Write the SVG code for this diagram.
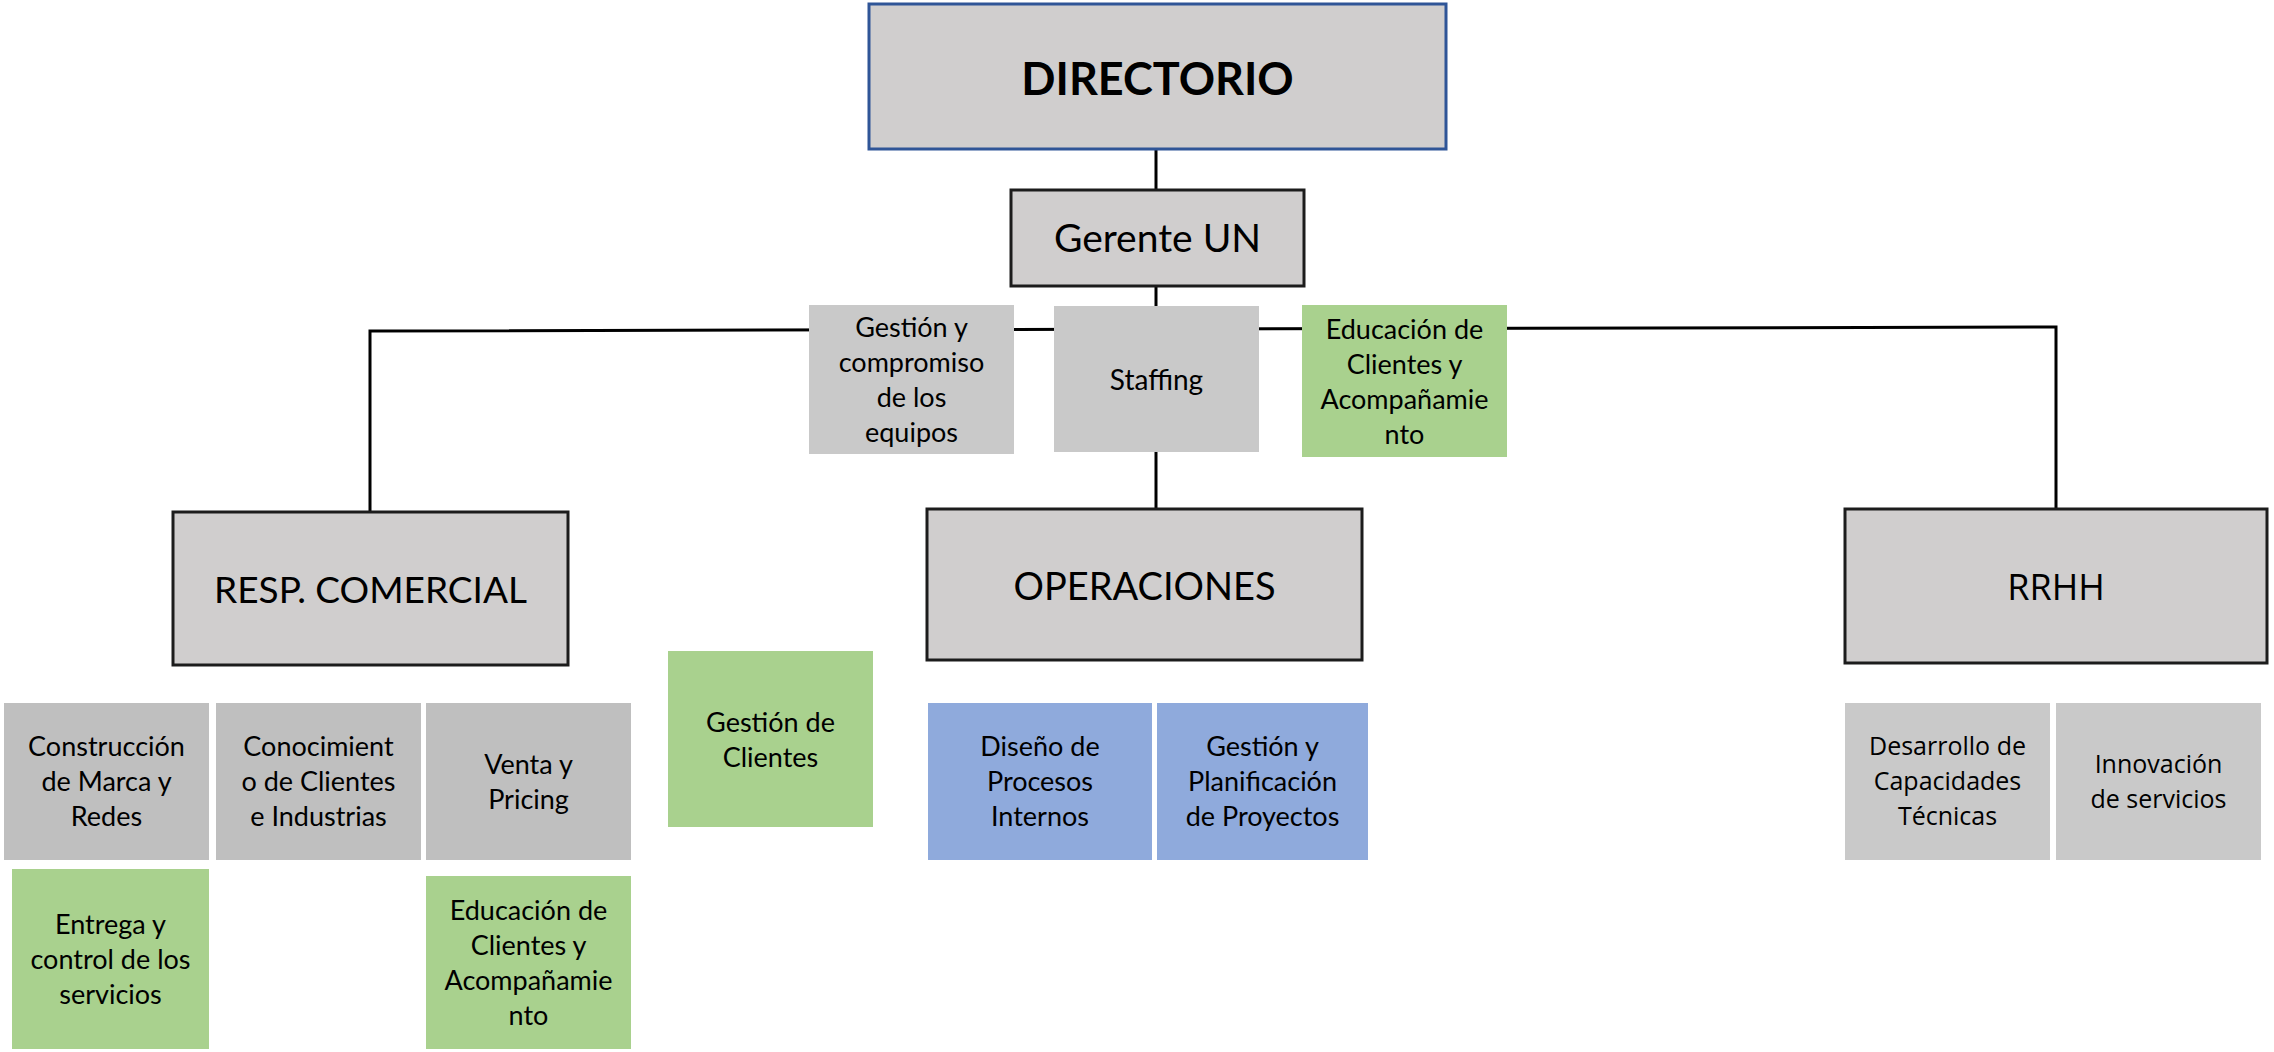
<svg xmlns="http://www.w3.org/2000/svg" width="2274" height="1052" viewBox="0 0 2274 1052">
  <style>
    .bg { fill: #ffffff; }
    .main { fill: #D0CECE; stroke: #1c1c1c; stroke-width: 3; }
    .top { fill: #D0CECE; stroke: #2F5597; stroke-width: 3; }
    .gray { fill: #C9C9C9; }
    .gray2 { fill: #BFBFBF; }
    .green { fill: #A9D18E; }
    .blue { fill: #8FAADC; }
    .wire { fill: none; stroke: #000000; stroke-width: 3; }
    text { font-family: Lato, "Liberation Sans", sans-serif; fill: #000000; text-anchor: middle; }
    .s { font-size: 27px; }
    .big { font-size: 38px; }
    .seg { font-family: "Open Sans", "Liberation Sans", sans-serif; }
    .seg.s { font-size: 25px; }
  </style>
  <rect class="bg" x="0" y="0" width="2274" height="1052"/>

  <!-- connectors -->
  <g id="connectors">
    <line class="wire" x1="1156" y1="149" x2="1156" y2="190"/>
    <line class="wire" x1="1156" y1="286" x2="1156" y2="306"/>
    <line class="wire" x1="1156" y1="452" x2="1156" y2="509"/>
    <polyline class="wire" points="370,512 370,331 2056,327 2056,509"/>
  </g>

  <g id="directorio">
    <rect class="top" x="869" y="4" width="577" height="145"/>
    <text x="1157.5" y="95" style="font-size:45px;font-weight:bold">DIRECTORIO</text>
  </g>

  <g id="gerente">
    <rect class="main" x="1011" y="190" width="293" height="96"/>
    <text x="1157.5" y="252" style="font-size:39px">Gerente UN</text>
  </g>

  <g id="gestion-compromiso">
    <rect class="gray" x="809" y="305" width="205" height="149"/>
    <text class="s" x="911.5" y="337">Gestión y</text>
    <text class="s" x="911.5" y="372">compromiso</text>
    <text class="s" x="911.5" y="407">de los</text>
    <text class="s" x="911.5" y="442">equipos</text>
  </g>

  <g id="staffing">
    <rect class="gray" x="1054" y="306" width="205" height="146"/>
    <text x="1156.5" y="390" style="font-size:28px">Staffing</text>
  </g>

  <g id="educacion-top">
    <rect class="green" x="1302" y="305" width="205" height="152"/>
    <text class="s" x="1404.5" y="338.5">Educación de</text>
    <text class="s" x="1404.5" y="373.5">Clientes y</text>
    <text class="s" x="1404.5" y="408.5">Acompañamie</text>
    <text class="s" x="1404.5" y="443.5">nto</text>
  </g>

  <g id="resp-comercial">
    <rect class="main" x="173" y="512" width="395" height="153"/>
    <text x="370.5" y="603" style="font-size:37px">RESP. COMERCIAL</text>
  </g>

  <g id="operaciones">
    <rect class="main" x="927" y="509" width="435" height="151"/>
    <text class="big" x="1144.5" y="600">OPERACIONES</text>
  </g>

  <g id="rrhh">
    <rect class="main" x="1845" y="509" width="422" height="154"/>
    <text class="seg" x="2056" y="600" style="font-size:36px">RRHH</text>
  </g>

  <g id="construccion">
    <rect class="gray2" x="4" y="703" width="205" height="157"/>
    <text class="s" x="106.5" y="756">Construcción</text>
    <text class="s" x="106.5" y="791">de Marca y</text>
    <text class="s" x="106.5" y="826">Redes</text>
  </g>

  <g id="conocimiento">
    <rect class="gray2" x="216" y="703" width="205" height="157"/>
    <text class="s" x="318.5" y="756">Conocimient</text>
    <text class="s" x="318.5" y="791">o de Clientes</text>
    <text class="s" x="318.5" y="826">e Industrias</text>
  </g>

  <g id="venta-pricing">
    <rect class="gray2" x="426" y="703" width="205" height="157"/>
    <text class="s" x="528.5" y="773.5">Venta y</text>
    <text class="s" x="528.5" y="808.5">Pricing</text>
  </g>

  <g id="entrega">
    <rect class="green" x="12" y="869" width="197" height="180"/>
    <text class="s" x="110.5" y="934">Entrega y</text>
    <text class="s" x="110.5" y="969">control de los</text>
    <text class="s" x="110.5" y="1004">servicios</text>
  </g>

  <g id="educacion-bottom">
    <rect class="green" x="426" y="876" width="205" height="173"/>
    <text class="s" x="528.5" y="920">Educación de</text>
    <text class="s" x="528.5" y="955">Clientes y</text>
    <text class="s" x="528.5" y="990">Acompañamie</text>
    <text class="s" x="528.5" y="1025">nto</text>
  </g>

  <g id="gestion-clientes">
    <rect class="green" x="668" y="651" width="205" height="176"/>
    <text class="s" x="770.5" y="731.5">Gestión de</text>
    <text class="s" x="770.5" y="766.5">Clientes</text>
  </g>

  <g id="diseno-procesos">
    <rect class="blue" x="928" y="703" width="224" height="157"/>
    <text class="s" x="1040" y="756">Diseño de</text>
    <text class="s" x="1040" y="791">Procesos</text>
    <text class="s" x="1040" y="826">Internos</text>
  </g>

  <g id="planificacion">
    <rect class="blue" x="1157" y="703" width="211" height="157"/>
    <text class="s" x="1262.5" y="756">Gestión y</text>
    <text class="s" x="1262.5" y="791">Planificación</text>
    <text class="s" x="1262.5" y="826">de Proyectos</text>
  </g>

  <g id="desarrollo">
    <rect class="gray" x="1845" y="703" width="205" height="157"/>
    <text class="seg s" x="1947.5" y="755">Desarrollo de</text>
    <text class="seg s" x="1947.5" y="790">Capacidades</text>
    <text class="seg s" x="1947.5" y="825">Técnicas</text>
  </g>

  <g id="innovacion">
    <rect class="gray" x="2056" y="703" width="205" height="157"/>
    <text class="seg s" x="2158.5" y="772.5">Innovación</text>
    <text class="seg s" x="2158.5" y="807.5">de servicios</text>
  </g>
</svg>
